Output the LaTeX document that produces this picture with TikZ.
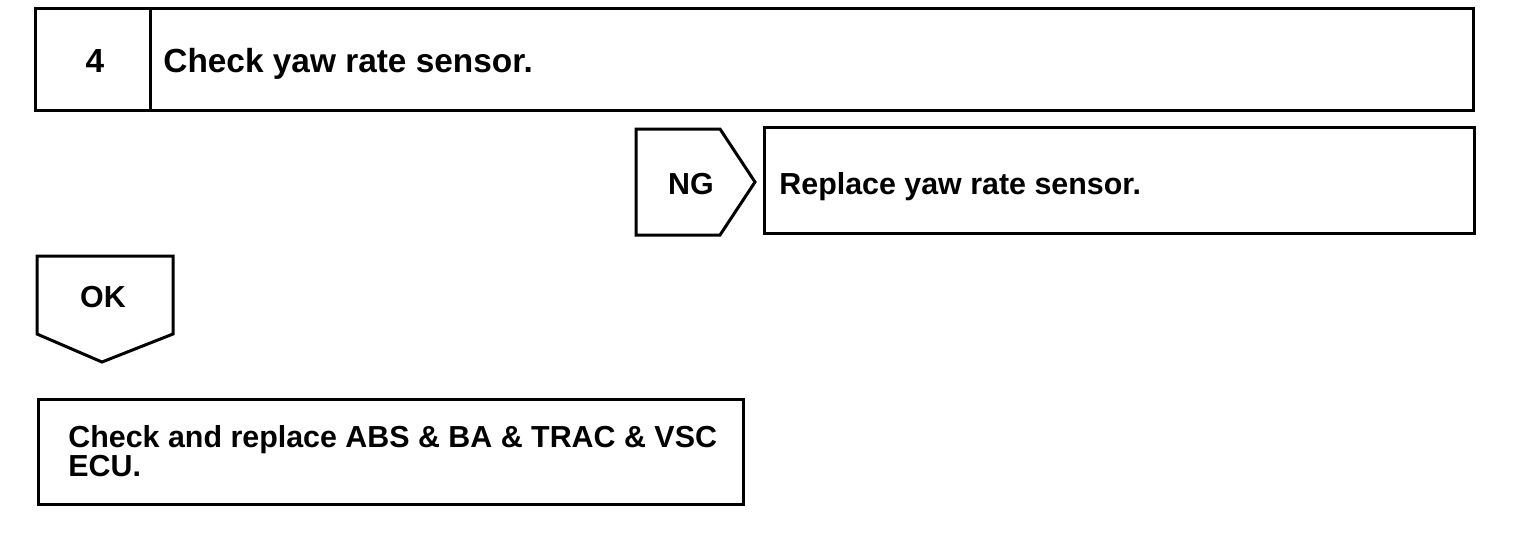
\documentclass[tikz,border=0pt]{standalone}
\usepackage{fontspec}
\setmainfont{Liberation Sans}
\begin{document}
\begin{tikzpicture}[x=0.5pt,y=-0.5pt,
  frame/.style={draw=black,line width=1.5pt,line join=miter},
  lbl/.style={inner sep=0pt,font=\bfseries\fontsize{15.2}{14.5}\selectfont},
  biglbl/.style={inner sep=0pt,font=\bfseries\fontsize{16.7}{16}\selectfont}]
\useasboundingbox[fill=white] (0,0) rectangle (1520,532);
% step 4 header
\draw[frame] (35,8) rectangle (1473,110);
\draw[frame] (150,8) -- (150,110);
\node[biglbl,anchor=base] (num) at (95,72) {4};
\node[biglbl,anchor=base west] (title) at (163,72) {Check yaw rate sensor.};
% NG arrow and result
\draw[frame] (636,129) -- (720,129) -- (755,182) -- (720,235) -- (636,235) -- cycle;
\node[lbl,anchor=base] (ng) at (691,194) {NG};
\draw[frame] (764,127) rectangle (1474,233);
\node[lbl,anchor=base west] (ngres) at (779,194) {Replace yaw rate sensor.};
% OK arrow
\draw[frame] (37,256) -- (173,256) -- (173,334) -- (102,362) -- (37,334) -- cycle;
\node[lbl,anchor=base] (ok) at (103,307) {OK};
% OK result
\draw[frame] (38,399) rectangle (743,504);
\node[lbl,anchor=base west,align=left] (okres) at (68,447) {Check and replace ABS \& BA \& TRAC \& VSC};
\node[lbl,anchor=base west,align=left] (okres2) at (68,476) {ECU.};
\end{tikzpicture}
\end{document}
